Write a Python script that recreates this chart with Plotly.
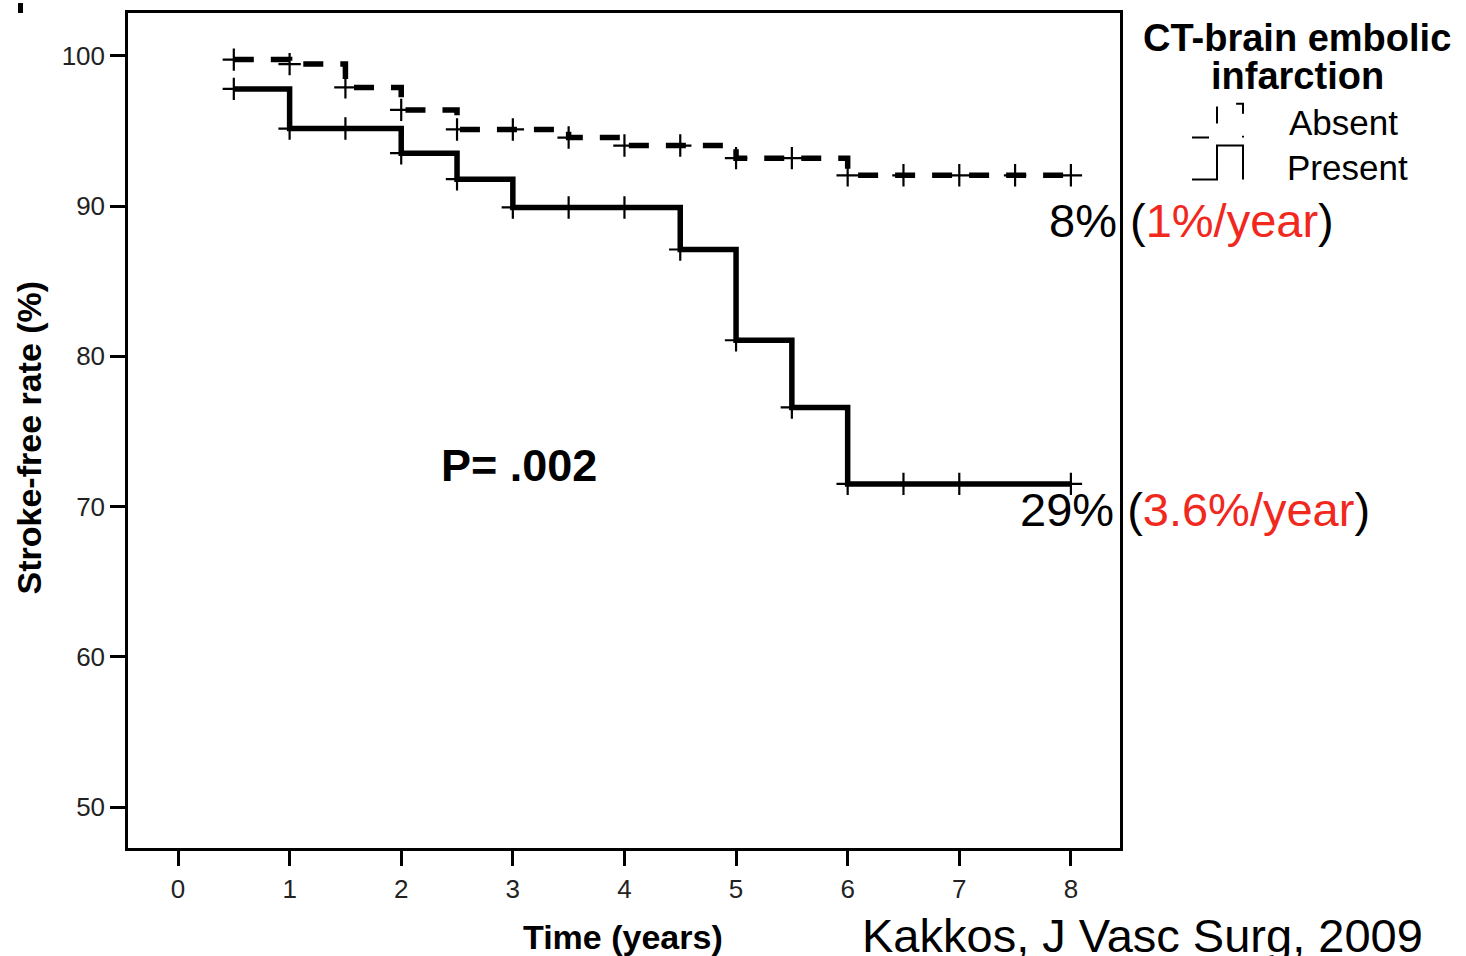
import plotly.graph_objects as go

# ---------------- data ----------------
present_time = [0.5, 1, 2, 2.5, 3, 4.5, 5, 5.5, 6, 8]
present_surv = [97.8, 95.16, 93.52, 91.79, 89.91, 87.11, 81.07, 76.6, 71.51, 71.51]
present_cens_time = [0.5, 1, 1.5, 2, 2.5, 3, 3.5, 4, 4.5, 5, 5.5, 6, 6.5, 7, 8]
present_cens_surv = [97.8, 95.16, 95.16, 93.52, 91.79, 89.91, 89.91, 89.91, 87.11,
                     81.07, 76.6, 71.51, 71.51, 71.51, 71.51]

absent_time = [0.5, 1, 1.5, 2, 2.5, 3.5, 4, 5, 6, 8]
absent_surv = [99.75, 99.45, 97.9, 96.4, 95.1, 94.56, 94.03, 93.19, 92.05, 92.05]
absent_cens_time = [0.5, 1, 1.5, 2, 2.5, 3, 3.5, 4, 4.5, 5, 5.5, 6, 6.5, 7, 7.5, 8]
absent_cens_surv = [99.75, 99.45, 97.9, 96.4, 95.1, 95.1, 94.56, 94.03, 94.03,
                    93.19, 93.19, 92.05, 92.05, 92.05, 92.05, 92.05]

x_ticks = [0, 1, 2, 3, 4, 5, 6, 7, 8]
y_ticks = [50, 60, 70, 80, 90, 100]

FONT = "Liberation Sans, Arial, sans-serif"
RED = "#f0281e"

# plot-area pixel box and helpers for paper coordinates
L, R, T, B = 128, 1120, 10, 848
def px_x(px):
    return (px - L) / (R - L)
def px_y(py):
    return (B - py) / (B - T)

fig = go.Figure()

fig.add_trace(go.Scatter(x=absent_time, y=absent_surv, mode="lines", line_shape="hv",
                         line=dict(color="black", width=5.5, dash="20px,17px"),
                         name="Absent", showlegend=False, cliponaxis=False))
fig.add_trace(go.Scatter(x=absent_cens_time, y=absent_cens_surv, mode="markers",
                         marker=dict(symbol="cross-thin", size=16,
                                     line=dict(color="black", width=2.2)),
                         showlegend=False, cliponaxis=False))
fig.add_trace(go.Scatter(x=present_time, y=present_surv, mode="lines", line_shape="hv",
                         line=dict(color="black", width=5.5),
                         name="Present", showlegend=False, cliponaxis=False))
fig.add_trace(go.Scatter(x=present_cens_time, y=present_cens_surv, mode="markers",
                         marker=dict(symbol="cross-thin", size=16,
                                     line=dict(color="black", width=2.2)),
                         showlegend=False, cliponaxis=False))

axis_common = dict(showline=True, linecolor="black", linewidth=2.5, mirror=True,
                   ticks="outside", tickcolor="black", tickwidth=2.5,
                   showgrid=False, zeroline=False,
                   tickfont=dict(family=FONT, size=26, color="#222222"))

fig.update_xaxes(range=[-0.448, 8.44], tickvals=x_ticks, ticklen=15,
                 ticklabelstandoff=1, **axis_common)
fig.update_yaxes(range=[47.28, 102.85], tickvals=y_ticks, ticklen=15,
                 ticklabelstandoff=0, **axis_common)

annotations = [
    dict(text="<b>P= .002</b>", x=3.056, y=72.75, xref="x", yref="y",
         font=dict(size=45, color="black")),
    dict(text=f"8% (<span style='color:{RED}'>1%/year</span>)", x=7.787, y=89.05,
         xref="x", yref="y", xanchor="left", font=dict(size=47, color="black")),
    dict(text=f"29% (<span style='color:{RED}'>3.6%/year</span>)", x=7.527, y=69.8,
         xref="x", yref="y", xanchor="left", font=dict(size=47, color="black")),
    dict(text="<b>Stroke-free rate (%)</b>", x=px_x(29), y=px_y(436), textangle=-90,
         xref="paper", yref="paper", font=dict(size=34, color="black")),
    dict(text="<b>Time (years)</b>", x=px_x(623), y=px_y(937),
         xref="paper", yref="paper", font=dict(size=34, color="black")),
    dict(text="Kakkos, J Vasc Surg, 2009", x=px_x(860), y=px_y(936), xanchor="left",
         xref="paper", yref="paper", font=dict(size=47, color="black")),
    dict(text="<b>CT-brain embolic</b>", x=px_x(1297), y=px_y(35),
         xref="paper", yref="paper", font=dict(size=38, color="black")),
    dict(text="<b>infarction</b>", x=px_x(1297), y=px_y(73),
         xref="paper", yref="paper", font=dict(size=38, color="black")),
    dict(text="Absent", x=px_x(1287), y=px_y(120), xanchor="left",
         xref="paper", yref="paper", font=dict(size=35, color="black")),
    dict(text="Present", x=px_x(1285), y=px_y(165), xanchor="left",
         xref="paper", yref="paper", font=dict(size=35, color="black")),
]
for a in annotations:
    a.setdefault("showarrow", False)
    a.setdefault("xanchor", "center")
    a.setdefault("yanchor", "middle")
    a["font"]["family"] = FONT

def path(points):
    return "M " + " L ".join(f"{px_x(px)},{px_y(py)}" for px, py in points)

shapes = [
    # legend glyph: Absent (dashed step)
    dict(type="path", xref="paper", yref="paper",
         path=path([(1192, 135), (1217, 135), (1217, 101), (1243, 101), (1243, 135)]),
         line=dict(color="black", width=2, dash="17px,22px")),
    # legend glyph: Present (solid step)
    dict(type="path", xref="paper", yref="paper",
         path=path([(1192, 177), (1217, 177), (1217, 143), (1243, 143), (1243, 177)]),
         line=dict(color="black", width=2)),
    # cut-off panel letter fragment in top-left corner
    dict(type="rect", xref="paper", yref="paper",
         x0=px_x(18), x1=px_x(23), y0=px_y(10), y1=px_y(0),
         fillcolor="black", line=dict(width=0)),
]

fig.update_layout(width=1466, height=956,
                  margin=dict(l=L, r=1466 - R, t=T, b=956 - B),
                  paper_bgcolor="white", plot_bgcolor="white",
                  font=dict(family=FONT, color="black"),
                  showlegend=False, annotations=annotations, shapes=shapes)

fig.write_html("out.html")
